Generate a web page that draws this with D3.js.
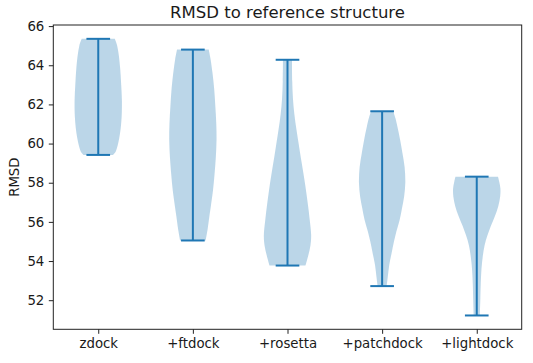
<!DOCTYPE html>
<html>
<head>
<meta charset="utf-8">
<script src="https://cdn.jsdelivr.net/npm/d3@7"></script>
<style>
  body { margin: 0; background: #fff; }
  text { font-family: "DejaVu Sans", sans-serif; fill: #1a1a1a; }
</style>
</head>
<body>
<div id="chart"></div>
<script>
// groups, extremes and density outlines
const labels = ["zdock", "+ftdock", "+rosetta", "+patchdock", "+lightdock"];
const mins = [59.42, 55.05, 53.77, 52.72, 51.22];
const maxs = [65.35, 64.80, 64.28, 61.65, 58.31];
const yTicks = [52, 54, 56, 58, 60, 62, 64, 66];

// [RMSD, relative width] from bottom to top of each violin
const zdockShape = [[59.42, 0.62], [59.6, 0.74], [59.9, 0.82], [60.3, 0.89], [60.8, 0.95], [61.4, 0.99], [62.2, 1.0], [63.0, 0.97], [63.8, 0.93], [64.5, 0.87], [65.0, 0.8], [65.35, 0.7]];
const ftdockShape = [[55.05, 0.54], [55.6, 0.62], [56.3, 0.7], [56.8, 0.76], [57.6, 0.85], [58.5, 0.92], [59.3, 0.97], [60.2, 1.0], [61.0, 0.99], [61.9, 0.95], [62.8, 0.9], [63.6, 0.83], [64.3, 0.75], [64.8, 0.67]];
const rosettaShape = [[53.77, 0.76], [54.3, 0.88], [54.8, 0.97], [55.3, 1.0], [56.1, 0.94], [57.0, 0.85], [57.8, 0.76], [58.5, 0.67], [59.3, 0.56], [60.0, 0.47], [60.7, 0.38], [61.5, 0.29], [62.3, 0.23], [63.2, 0.2], [64.28, 0.19]];
const patchdockShape = [[52.72, 0.19], [53.2, 0.24], [53.8, 0.3], [54.4, 0.4], [55.0, 0.5], [55.5, 0.6], [56.1, 0.74], [56.7, 0.84], [57.3, 0.93], [58.0, 0.98], [58.8, 0.95], [59.5, 0.86], [60.2, 0.76], [60.9, 0.64], [61.3, 0.56], [61.65, 0.47]];
const lightdockShape = [[51.22, 0.13], [52.0, 0.15], [52.9, 0.17], [53.6, 0.2], [54.2, 0.25], [54.8, 0.33], [55.3, 0.45], [55.8, 0.6], [56.3, 0.77], [56.8, 0.91], [57.3, 0.99], [57.7, 1.0], [58.05, 0.95], [58.31, 0.9]];
const shapes = [zdockShape, ftdockShape, rosettaShape, patchdockShape, lightdockShape];

const width = 533, height = 363;
const margin = { top: 25, right: 11.3, bottom: 33.7, left: 53.3 };
const innerW = width - margin.left - margin.right,
      innerH = height - margin.top - margin.bottom;

const blue = "#1f77b4";

const svg = d3.select("#chart").append("svg")
    .attr("width", width)
    .attr("height", height);

const g = svg.append("g")
    .attr("transform", `translate(${margin.left},${margin.top})`);

// matplotlib style limits: 5% padding around the data
const lo = d3.min(mins), hi = d3.max(maxs), pad = (hi - lo) * 0.05;
const x = d3.scaleLinear().domain([0.525, labels.length + 0.475]).range([0, innerW]);
const y = d3.scaleLinear().domain([lo - pad, hi + pad]).range([innerH, 0]);

const halfW = 0.25, capW = 0.125;

labels.forEach((name, i) => {
    const pos = i + 1;
    const area = d3.area()
        .y(d => y(d[0]))
        .x0(d => x(pos - halfW * d[1]))
        .x1(d => x(pos + halfW * d[1]))
        .curve(d3.curveCatmullRom.alpha(0.5));

    g.append("path")
        .datum(shapes[i])
        .attr("d", area)
        .attr("fill", blue)
        .attr("fill-opacity", 0.3)
        .attr("stroke", "none");

    // vertical bar and caps
    g.append("line")
        .attr("x1", x(pos)).attr("x2", x(pos))
        .attr("y1", y(mins[i])).attr("y2", y(maxs[i]))
        .attr("stroke", blue).attr("stroke-width", 2);
    [mins[i], maxs[i]].forEach(v => {
        g.append("line")
            .attr("x1", x(pos - capW)).attr("x2", x(pos + capW))
            .attr("y1", y(v)).attr("y2", y(v))
            .attr("stroke", blue).attr("stroke-width", 2);
    });
});

const yAxis = g.append("g")
    .call(d3.axisLeft(y).tickValues(yTicks).tickFormat(d3.format("d")).tickSize(4.5).tickPadding(4.5));
const xAxis = g.append("g")
    .attr("transform", `translate(0,${innerH})`)
    .call(d3.axisBottom(x).tickValues(labels.map((d, i) => i + 1)).tickFormat((d, i) => labels[i]).tickSize(4.5).tickPadding(5));

[yAxis, xAxis].forEach(a => {
    a.select(".domain").remove();
    a.selectAll(".tick line").attr("stroke", "#222").attr("stroke-width", 1);
    a.selectAll(".tick text").style("font-size", "13.3px").attr("fill", "#1a1a1a");
});

// frame
g.append("rect")
    .attr("width", innerW).attr("height", innerH)
    .attr("fill", "none")
    .attr("stroke", "#222")
    .attr("stroke-width", 1);

svg.append("text")
    .attr("x", margin.left + innerW / 2)
    .attr("y", 18)
    .attr("text-anchor", "middle")
    .style("font-size", "16.5px")
    .text("RMSD to reference structure");

svg.append("text")
    .attr("transform", `translate(18.5,${margin.top + innerH / 2}) rotate(-90)`)
    .attr("text-anchor", "middle")
    .style("font-size", "13.3px")
    .text("RMSD");
</script>
</body>
</html>
